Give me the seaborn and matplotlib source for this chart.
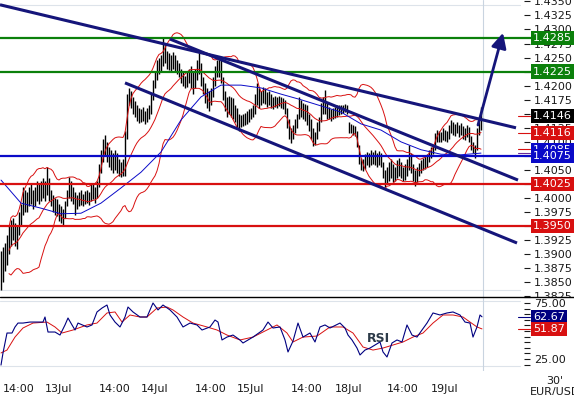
import numpy as np
import pandas as pd
import seaborn as sns
import matplotlib.pyplot as plt
import matplotlib.transforms as mtransforms
from matplotlib.lines import Line2D
from matplotlib.patches import Rectangle

sns.set_style("white")
plt.rcParams['font.family'] = ['DejaVu Sans']

# EUR/USD 30' bars, 12Jul 09:30 -> 19Jul
highs = [
    1.3905, 1.3913, 1.3920, 1.3934, 1.3950, 1.3961, 1.3965, 1.3955, 1.3952, 1.3975,
    1.3990, 1.4020, 1.4015, 1.4010, 1.4020, 1.4025, 1.4015, 1.4020, 1.4030, 1.4025,
    1.4030, 1.4035, 1.4030, 1.4055, 1.4035, 1.4015, 1.4005, 1.4000, 1.3998, 1.3990,
    1.3985, 1.3980, 1.3995, 1.4015, 1.4037, 1.4030, 1.4020, 1.4010, 1.4005, 1.4010,
    1.4014, 1.4008, 1.4012, 1.4015, 1.4010, 1.4025, 1.4027, 1.4020, 1.4030, 1.4060,
    1.4085, 1.4105, 1.4112, 1.4100, 1.4090, 1.4085, 1.4080, 1.4085, 1.4080, 1.4070,
    1.4065, 1.4070, 1.4120, 1.4185, 1.4195, 1.4190, 1.4180, 1.4172, 1.4165, 1.4160,
    1.4158, 1.4162, 1.4155, 1.4160, 1.4165, 1.4185, 1.4210, 1.4225, 1.4246, 1.4250,
    1.4255, 1.4285, 1.4275, 1.4262, 1.4258, 1.4255, 1.4260, 1.4255, 1.4245, 1.4240,
    1.4230, 1.4225, 1.4218, 1.4225, 1.4230, 1.4235, 1.4225, 1.4230, 1.4245, 1.4260,
    1.4240, 1.4215, 1.4205, 1.4195, 1.4190, 1.4195, 1.4215, 1.4235, 1.4245, 1.4252,
    1.4245, 1.4215, 1.4190, 1.4180, 1.4182, 1.4180, 1.4178, 1.4165, 1.4160, 1.4150,
    1.4148, 1.4150, 1.4152, 1.4155, 1.4158, 1.4160, 1.4165, 1.4185, 1.4205, 1.4195,
    1.4190, 1.4198, 1.4195, 1.4188, 1.4190, 1.4185, 1.4180, 1.4182, 1.4180, 1.4182,
    1.4180, 1.4178, 1.4175, 1.4160, 1.4140, 1.4125, 1.4130, 1.4140, 1.4150, 1.4180,
    1.4175, 1.4170, 1.4168, 1.4165, 1.4150, 1.4140, 1.4125, 1.4118, 1.4135, 1.4145,
    1.4170, 1.4180, 1.4192, 1.4170, 1.4162, 1.4158, 1.4160, 1.4162, 1.4165, 1.4166,
    1.4165, 1.4166, 1.4168, 1.4166, 1.4135, 1.4132, 1.4130, 1.4128, 1.4120, 1.4095,
    1.4072, 1.4070, 1.4078, 1.4082, 1.4080, 1.4085, 1.4082, 1.4085, 1.4080, 1.4083,
    1.4080, 1.4065, 1.4050, 1.4055, 1.4065, 1.4070, 1.4060, 1.4055, 1.4068, 1.4072,
    1.4065, 1.4055, 1.4060, 1.4070, 1.4094, 1.4080, 1.4060, 1.4050, 1.4055, 1.4062,
    1.4068, 1.4072, 1.4075, 1.4078, 1.4085, 1.4090, 1.4095, 1.4115, 1.4122, 1.4120,
    1.4118, 1.4124, 1.4122, 1.4120, 1.4130, 1.4139, 1.4135, 1.4132, 1.4136, 1.4130,
    1.4134, 1.4128, 1.4125, 1.4130, 1.4126, 1.4110, 1.4100, 1.4095, 1.4125, 1.4135, 1.4162,
]
lows = [
    1.3836, 1.3850, 1.3870, 1.3880, 1.3900, 1.3915, 1.3925, 1.3915, 1.3910, 1.3935,
    1.3950, 1.3970, 1.3975, 1.3975, 1.3985, 1.3990, 1.3980, 1.3985, 1.3995, 1.3990,
    1.3995, 1.4000, 1.3995, 1.4005, 1.3995, 1.3985, 1.3975, 1.3970, 1.3968, 1.3960,
    1.3955, 1.3950, 1.3965, 1.3985, 1.4000, 1.3995, 1.3990, 1.3970, 1.3980, 1.3985,
    1.3988, 1.3985, 1.3990, 1.3992, 1.3988, 1.3995, 1.3998, 1.3992, 1.4000, 1.4020,
    1.4045, 1.4065, 1.4075, 1.4065, 1.4055, 1.4050, 1.4045, 1.4050, 1.4045, 1.4040,
    1.4037, 1.4040, 1.4040, 1.4105, 1.4165, 1.4160, 1.4150, 1.4145, 1.4138, 1.4134,
    1.4135, 1.4138, 1.4132, 1.4135, 1.4140, 1.4150, 1.4175, 1.4195, 1.4210, 1.4220,
    1.4225, 1.4235, 1.4240, 1.4230, 1.4228, 1.4225, 1.4230, 1.4225, 1.4220, 1.4215,
    1.4205, 1.4200, 1.4195, 1.4198, 1.4205, 1.4195, 1.4185, 1.4195, 1.4210, 1.4220,
    1.4200, 1.4185, 1.4170, 1.4160, 1.4155, 1.4165, 1.4180, 1.4200, 1.4215, 1.4215,
    1.4205, 1.4175, 1.4155, 1.4145, 1.4150, 1.4145, 1.4140, 1.4135, 1.4125, 1.4120,
    1.4126, 1.4128, 1.4130, 1.4132, 1.4135, 1.4140, 1.4145, 1.4150, 1.4165, 1.4160,
    1.4165, 1.4170, 1.4168, 1.4162, 1.4165, 1.4160, 1.4158, 1.4162, 1.4160, 1.4163,
    1.4160, 1.4158, 1.4150, 1.4125, 1.4105, 1.4098, 1.4105, 1.4116, 1.4125, 1.4140,
    1.4145, 1.4140, 1.4138, 1.4130, 1.4120, 1.4105, 1.4092, 1.4095, 1.4105, 1.4120,
    1.4135, 1.4150, 1.4150, 1.4140, 1.4140, 1.4138, 1.4140, 1.4142, 1.4145, 1.4148,
    1.4150, 1.4152, 1.4153, 1.4150, 1.4115, 1.4115, 1.4112, 1.4110, 1.4090, 1.4060,
    1.4050, 1.4048, 1.4052, 1.4058, 1.4055, 1.4058, 1.4060, 1.4058, 1.4055, 1.4058,
    1.4055, 1.4035, 1.4020, 1.4025, 1.4030, 1.4035, 1.4028, 1.4030, 1.4035, 1.4040,
    1.4035, 1.4030, 1.4032, 1.4040, 1.4050, 1.4045, 1.4030, 1.4022, 1.4028, 1.4040,
    1.4045, 1.4050, 1.4052, 1.4055, 1.4065, 1.4072, 1.4078, 1.4085, 1.4100, 1.4100,
    1.4100, 1.4104, 1.4102, 1.4100, 1.4105, 1.4115, 1.4112, 1.4110, 1.4115, 1.4108,
    1.4112, 1.4105, 1.4103, 1.4108, 1.4100, 1.4086, 1.4080, 1.4071, 1.4085, 1.4112, 1.4122,
]
closes = [
    1.3880, 1.3895, 1.3905, 1.3925, 1.3930, 1.3950, 1.3940, 1.3930, 1.3945, 1.3965,
    1.3985, 1.4005, 1.3995, 1.4000, 1.4010, 1.4005, 1.3995, 1.4012, 1.4020, 1.4005,
    1.4018, 1.4025, 1.4010, 1.4030, 1.4005, 1.3995, 1.3985, 1.3990, 1.3980, 1.3975,
    1.3965, 1.3972, 1.3990, 1.4008, 1.4020, 1.4005, 1.4000, 1.3985, 1.3998, 1.4002,
    1.4000, 1.3995, 1.4005, 1.4000, 1.4003, 1.4015, 1.4010, 1.4005, 1.4025, 1.4050,
    1.4075, 1.4095, 1.4090, 1.4075, 1.4070, 1.4060, 1.4065, 1.4070, 1.4055, 1.4050,
    1.4045, 1.4060, 1.4110, 1.4175, 1.4185, 1.4170, 1.4160, 1.4155, 1.4150, 1.4145,
    1.4150, 1.4145, 1.4140, 1.4152, 1.4158, 1.4180, 1.4200, 1.4215, 1.4235, 1.4240,
    1.4245, 1.4260, 1.4250, 1.4245, 1.4240, 1.4235, 1.4250, 1.4232, 1.4228, 1.4222,
    1.4215, 1.4210, 1.4205, 1.4215, 1.4220, 1.4210, 1.4200, 1.4222, 1.4235, 1.4240,
    1.4210, 1.4195, 1.4180, 1.4185, 1.4170, 1.4190, 1.4205, 1.4225, 1.4235, 1.4230,
    1.4215, 1.4180, 1.4165, 1.4170, 1.4160, 1.4170, 1.4150, 1.4145, 1.4135, 1.4140,
    1.4140, 1.4142, 1.4145, 1.4148, 1.4150, 1.4155, 1.4158, 1.4175, 1.4185, 1.4170,
    1.4180, 1.4190, 1.4180, 1.4175, 1.4182, 1.4170, 1.4175, 1.4172, 1.4170, 1.4175,
    1.4168, 1.4165, 1.4155, 1.4135, 1.4115, 1.4110, 1.4125, 1.4135, 1.4145, 1.4165,
    1.4160, 1.4150, 1.4160, 1.4145, 1.4130, 1.4115, 1.4100, 1.4110, 1.4128, 1.4140,
    1.4160, 1.4165, 1.4160, 1.4150, 1.4150, 1.4145, 1.4152, 1.4155, 1.4158, 1.4160,
    1.4158, 1.4160, 1.4162, 1.4158, 1.4125, 1.4122, 1.4120, 1.4115, 1.4095, 1.4065,
    1.4058, 1.4062, 1.4070, 1.4072, 1.4068, 1.4075, 1.4070, 1.4068, 1.4072, 1.4070,
    1.4060, 1.4040, 1.4030, 1.4045, 1.4050, 1.4055, 1.4040, 1.4048, 1.4055, 1.4060,
    1.4045, 1.4040, 1.4052, 1.4062, 1.4070, 1.4055, 1.4040, 1.4035, 1.4048, 1.4055,
    1.4060, 1.4065, 1.4068, 1.4072, 1.4080, 1.4085, 1.4090, 1.4110, 1.4115, 1.4108,
    1.4110, 1.4118, 1.4112, 1.4108, 1.4125, 1.4130, 1.4120, 1.4128, 1.4125, 1.4120,
    1.4125, 1.4115, 1.4118, 1.4122, 1.4108, 1.4092, 1.4088, 1.4085, 1.4120, 1.4128, 1.4146,
]

# long moving average (blue), read every 10 bars
ma_bars = list(range(0, 241, 10))
ma_values = [
    1.4032, 1.3991, 1.3982, 1.3972, 1.3973, 1.3991, 1.4018, 1.4046, 1.4082, 1.4139,
    1.4180, 1.4201, 1.4201, 1.4196, 1.4185, 1.4175, 1.4164, 1.4153, 1.4132, 1.4121,
    1.4100, 1.4086, 1.4078, 1.4077, 1.4080,
]

# RSI and its average
rsi_bars = [
    0, 1, 3, 5.5, 7, 8.5, 11, 14.5, 18, 21, 22, 23.5, 27, 29.5, 32, 33.5, 35.5, 37,
    38.5, 43, 45.5, 48, 50.5, 53, 54.5, 57, 59.5, 62, 63.5, 66, 69.5, 73, 76, 78.5,
    81, 84.5, 88, 91, 94.5, 98, 100.5, 104.5, 107, 108.5, 110.5, 113, 116, 119.5,
    121, 126, 131, 133.5, 136, 139.5, 142, 143.5, 146, 148.5, 151, 154.5, 157,
    159.5, 162, 164.5, 169.5, 172, 173.5, 175.5, 178, 179.5, 182, 184.5, 187,
    189.5, 191, 193, 195.5, 198, 200.5, 203, 205.5, 208, 210.5, 213, 216, 219.5,
    223, 226, 229.5, 232, 234.5, 236, 238, 239.5, 240.5,
]
rsi_values = [
    19.6, 30.4, 48.2, 48.2, 53.6, 57.1, 57.1, 58.0, 58.0, 58.0, 62.5, 49.1, 49.1,
    46.4, 55.4, 61.6, 55.4, 50.9, 57.1, 53.6, 55.4, 67.0, 70.5, 73.2, 64.3, 58.0,
    53.6, 62.5, 71.4, 67.0, 62.5, 62.5, 75.0, 68.8, 73.2, 68.8, 62.5, 53.6, 57.1,
    55.4, 50.9, 53.6, 59.8, 58.0, 42.0, 44.6, 46.4, 42.0, 39.3, 44.6, 50.9, 58.0,
    52.7, 53.6, 42.0, 31.3, 41.0, 57.1, 44.6, 48.2, 40.2, 53.6, 55.4, 52.7, 57.1,
    52.7, 46.4, 42.0, 34.8, 28.6, 33.0, 34.8, 37.5, 40.2, 31.3, 26.8, 39.3, 42.0,
    40.2, 55.4, 46.4, 44.6, 50.9, 57.1, 66.1, 64.3, 66.1, 67.0, 64.3, 58.0, 57.1,
    44.6, 53.6, 64.3, 62.67,
]
rsi_ma_bars = [
    0, 3, 7, 11, 16, 23, 27, 30.5, 36, 43, 48, 53, 57, 60.5, 64.5, 69.5, 73, 78, 83,
    86, 91, 96, 103, 108, 113, 119.5, 126, 133, 138, 143, 146, 151, 158, 164.5, 171,
    176, 181, 186, 191, 196, 201, 206, 211, 216, 221, 226, 231, 234.5, 238, 240.5,
]
rsi_ma_values = [
    30.4, 33.0, 44.6, 52.7, 57.1, 58.0, 53.6, 48.2, 50.9, 55.4, 57.1, 66.1, 67.0,
    58.0, 64.3, 62.5, 62.5, 70.5, 71.4, 68.8, 62.5, 57.1, 53.6, 50.9, 46.4, 42.0,
    44.6, 50.9, 55.4, 48.2, 40.2, 44.6, 45.5, 53.6, 53.6, 48.2, 35.7, 33.0, 34.8,
    37.5, 40.2, 44.6, 48.2, 57.1, 64.3, 64.3, 62.5, 58.0, 53.6, 51.87,
]

green_levels = [1.4285, 1.4225]
blue_levels = [1.4075]
red_levels = [1.4025, 1.3950]

# trend lines: (bar, price) -> (bar, price)
trend_lines = [
    ((-0.5, 1.4344), (257.5, 1.4125)),
    ((84.5, 1.4283), (258.5, 1.4032)),
    ((62.0, 1.4205), (258.0, 1.3920)),
]
arrow_start = (238.5, 1.4130)
arrow_end = (251.0, 1.4294)

# right side tags
last_close = 1.4146
bb_tag = 1.4116
ma_tag = 1.4085

time_labels = ["14:00", "13Jul", "14:00", "14Jul", "14:00", "15Jul",
               "14:00", "18Jul", "14:00", "19Jul"]
time_label_bars = [9, 29, 57, 77, 105, 125, 153, 174, 201, 222]

navy = '#15157a'
red = '#d81010'
green = '#0b800b'
blue = '#0a0ac8'

df = pd.DataFrame({"bar": np.arange(len(closes)), "high": highs,
                   "low": lows, "close": closes})
roll = df["close"].rolling(20, min_periods=5)
df["bb_mid"] = roll.mean()
df["bb_up"] = df["bb_mid"] + 2 * roll.std()
df["bb_dn"] = df["bb_mid"] - 2 * roll.std()
ma_df = pd.DataFrame({"bar": ma_bars, "ma": ma_values})
rsi_df = pd.DataFrame({"bar": rsi_bars, "rsi": rsi_values})
rsi_ma_df = pd.DataFrame({"bar": rsi_ma_bars, "rsi_ma": rsi_ma_values})

W, H = 574, 395
fig = plt.figure(figsize=(W / 100, H / 100), dpi=100)
ax = fig.add_axes([0, 98 / H, 524 / W, 297 / H], zorder=0)
ax_r = fig.add_axes([0, 24 / H, 524 / W, 74 / H], zorder=2)
xlim = (-0.5, 261.5)

# ---- price panel
ax.set_xlim(*xlim)
ax.set_ylim(1.38239, 1.43525)
ax.axhline(1.4344, xmax=520 / 524, color='#dde3ea', lw=0.8)
ax.axhline(1.3836, xmax=520 / 524, color='#dde3ea', lw=0.8)
ax.axvline(241, color='#c9d4e0', lw=0.8)

for v in green_levels:
    ax.axhline(v, xmax=531 / 524, color=green, lw=1.6, clip_on=False, zorder=3)
for v in blue_levels:
    ax.axhline(v, xmax=531 / 524, color=blue, lw=1.6, clip_on=False, zorder=3)
for v in red_levels:
    ax.axhline(v, xmax=531 / 524, color=red, lw=1.6, clip_on=False, zorder=3)

ax.vlines(df["bar"], df["low"], df["high"], color='black', lw=1.0, zorder=2)
for col in ["bb_up", "bb_mid", "bb_dn"]:
    sns.lineplot(data=df, x="bar", y=col, color=red, lw=0.7, ax=ax, zorder=2.5)
sns.lineplot(data=ma_df, x="bar", y="ma", color=blue, lw=0.7, ax=ax, zorder=2.5)

for (x0, y0), (x1, y1) in trend_lines:
    ax.plot([x0, x1], [y0, y1], color=navy, lw=2.2, solid_capstyle='butt', zorder=4)
ax.annotate('', xy=arrow_end, xytext=arrow_start,
            arrowprops=dict(arrowstyle='-|>,head_length=0.9,head_width=0.45',
                            color=navy, lw=2, shrinkA=0, shrinkB=0), zorder=4)

price_ticks = np.round(np.arange(1.3825, 1.43501, 0.0025), 4)
ax.yaxis.tick_right()
ax.set_yticks(price_ticks)
ax.set_yticklabels([f"{t:.4f}" for t in price_ticks])
ax.tick_params(axis='y', length=4, width=0.8, pad=3, labelsize=8,
               colors='#1a1a1a')
ax.set_xticks([])
ax.set_xlabel('')
ax.set_ylabel('')
for s in ax.spines.values():
    s.set_visible(False)

tr = mtransforms.blended_transform_factory(ax.transAxes, ax.transData)
marks = [(df["bb_up"].iloc[-1], red), (df["bb_mid"].iloc[-1], red),
         (df["bb_dn"].iloc[-1], red), (ma_values[-1], '#6a2a9a')]
for v, c in marks:
    ax.plot([518 / 524, 530 / 524], [v, v], color=c, lw=0.8, transform=tr,
            clip_on=False, zorder=3)


def tag(axis, value, text, color, trans):
    axis.text(533 / 524, value, text, transform=trans, color='white',
              fontsize=8, ha='left', va='center', zorder=6, clip_on=False,
              bbox=dict(boxstyle='square,pad=0.2', fc=color, ec='none'))


for v in green_levels:
    tag(ax, v, f"{v:.4f}", green, tr)
tag(ax, last_close, f"{last_close:.4f}", 'black', tr)
tag(ax, bb_tag, f"{bb_tag:.4f}", red, tr)
tag(ax, ma_tag, f"{ma_tag:.4f}", blue, tr)
for v in blue_levels:
    tag(ax, v, f"{v:.4f}", blue, tr)
for v in red_levels:
    tag(ax, v, f"{v:.4f}", red, tr)

# ---- RSI panel
ax_r.set_xlim(*xlim)
ax_r.set_ylim(14.3, 80.36)
ax_r.axhline(76.8, xmax=520 / 524, color='#dde3ea', lw=0.8)
ax_r.axhline(18.8, xmax=520 / 524, color='#dde3ea', lw=0.8)
ax_r.axvline(241, color='#c9d4e0', lw=0.8)
sns.lineplot(data=rsi_ma_df, x="bar", y="rsi_ma", color=red, lw=0.7, ax=ax_r)
sns.lineplot(data=rsi_df, x="bar", y="rsi", color='#000080', lw=0.8, ax=ax_r)
ax_r.text(188.5, 43.5, "RSI", fontsize=9, fontweight='bold', color='#2c3a48',
          ha='center', va='center')

rsi_last = rsi_values[-1]
rsi_ma_last = rsi_ma_values[-1]
ax_r.yaxis.tick_right()
ax_r.set_yticks([25, 75])
ax_r.set_yticklabels(["25.00", "75.00"])
ax_r.set_yticks(np.arange(20, 81, 5), minor=True)
ax_r.tick_params(axis='y', which='both', length=4, width=0.8, pad=3,
                 labelsize=8, colors='#1a1a1a')
ax_r.set_xticks(time_label_bars)
ax_r.set_xticklabels(time_labels)
ax_r.set_xticks(np.arange(0, 241, 2), minor=True)
ax_r.tick_params(axis='x', which='major', length=0, pad=9, labelsize=8,
                 colors='#1a1a1a')
ax_r.tick_params(axis='x', which='minor', length=4, width=0.8, color='#1a1a1a')
ax_r.set_xlabel('')
ax_r.set_ylabel('')
for s in ax_r.spines.values():
    s.set_visible(False)

tr_r = mtransforms.blended_transform_factory(ax_r.transAxes, ax_r.transData)
ax_r.plot([518 / 524, 530 / 524], [rsi_last, rsi_last], color='#000080',
          lw=0.8, transform=tr_r, clip_on=False)
ax_r.plot([518 / 524, 530 / 524], [rsi_ma_last, rsi_ma_last], color=red,
          lw=0.8, transform=tr_r, clip_on=False)
tag(ax_r, rsi_last, f"{rsi_last:.2f}", '#000080', tr_r)
tag(ax_r, rsi_ma_last, f"{rsi_ma_last:.2f}", red, tr_r)

# cover lower half of the cut price label, then panel separator
fig.add_artist(Rectangle((524 / W, 91 / H), 50 / W, 7 / H, transform=fig.transFigure,
                         fc='white', ec='none', zorder=1))
fig.add_artist(Line2D([0, 1], [98 / H, 98 / H], color='black', lw=1.0, zorder=3))

fig.text(555 / W, 1 - 381 / H, "30'", fontsize=8, ha='center', va='center',
         color='#1a1a1a')
fig.text(555 / W, 1 - 392 / H, "EUR/USD", fontsize=8, ha='center', va='center',
         color='#1a1a1a')

fig.savefig("out.png", dpi=100)
